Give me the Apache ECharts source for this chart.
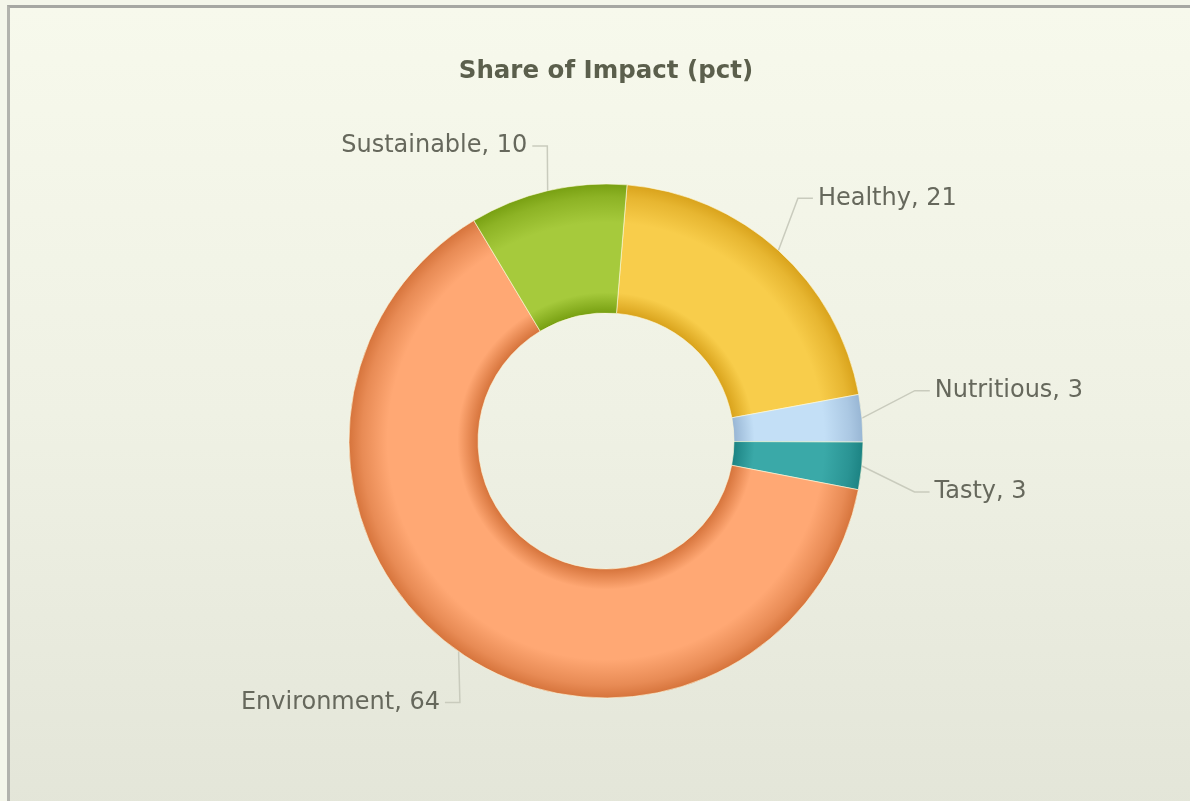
<!DOCTYPE html>
<html>
<head>
<meta charset="utf-8">
<script src="https://cdn.jsdelivr.net/npm/echarts@6/dist/echarts.min.js"></script>
<style>
  html, body { margin: 0; padding: 0; width: 1190px; height: 801px; overflow: hidden; background: #f4f6ea; }
  #frame {
    position: absolute; left: 7px; top: 5px; width: 1200px; height: 810px;
    border-top: 3px solid #a6a7a2; border-left: 3px solid #b2b3ad;
    background: linear-gradient(to bottom, #f7f9ec 0%, #eff1e4 50%, #e3e5d8 100%);
  }
  #chart { position: absolute; left: 0; top: 0; width: 1190px; height: 801px; }
</style>
</head>
<body>
<div id="frame"></div>
<div id="chart"></div>
<script>
// ---- data ----
const titleText = 'Share of Impact (pct)';
const categories = ['Healthy', 'Nutritious', 'Tasty', 'Environment', 'Sustainable'];
const values = [21, 3, 3, 64, 10];

// ---- style ----
const lightColors = ['#f8cd4b', '#c3dff6', '#3aa9a8', '#ffa874', '#a6ca3c'];
const darkColors  = ['#d9a31c', '#98b6d4', '#1c8383', '#d6743c', '#78a012'];
// label offsets (label + elbow shifted together), per slice
const labelDx = [-14, 3, 3, 30, 11];
const labelDy = [-15, -23, 21, 10, 4];

const CX = 606, CY = 441, R0 = 128, R1 = 257;

function ringGradient(light, dark) {
  const f = R0 / R1;
  return {
    type: 'radial', x: CX, y: CY, r: R1, global: true,
    colorStops: [
      { offset: 0, color: dark },
      { offset: f, color: dark },
      { offset: f + 0.08, color: light },
      { offset: 0.85, color: light },
      { offset: 0.95, color: echarts.color.lerp(0.55, [light, dark]) },
      { offset: 1, color: dark }
    ]
  };
}

const chart = echarts.init(document.getElementById('chart'), null, { renderer: 'canvas' });
chart.setOption({
  animation: false,
  backgroundColor: 'transparent',
  title: {
    text: titleText,
    left: CX - 5,
    textAlign: 'center',
    top: 54,
    textStyle: { fontFamily: 'DejaVu Sans', fontWeight: 'bold', fontSize: 24.5, color: '#5b5f4c' }
  },
  series: [{
    type: 'pie',
    center: [CX, CY],
    radius: [R0, R1],
    startAngle: 85.3,
    clockwise: true,
    avoidLabelOverlap: false,
    emphasis: { disabled: true },
    itemStyle: { borderColor: 'rgba(255,250,220,0.6)', borderWidth: 1 },
    label: {
      show: true,
      formatter: '{b}, {c}',
      fontFamily: 'DejaVu Sans',
      fontSize: 24,
      color: '#66685c'
    },
    labelLine: {
      show: true,
      length: 50,
      length2: 15,
      lineStyle: { color: '#c9cbbd', width: 1.5 }
    },
    labelLayout: function (params) {
      const i = params.dataIndex;
      const dx = labelDx[i], dy = labelDy[i];
      const pts = params.labelLinePoints;
      const res = { dx: dx, dy: dy };
      if (pts && pts.length === 3) {
        res.labelLinePoints = [
          [pts[0][0], pts[0][1]],
          [pts[1][0] + dx, pts[1][1] + dy],
          [pts[2][0] + dx, pts[2][1] + dy]
        ];
      }
      return res;
    },
    data: categories.map((name, i) => ({
      name: name,
      value: values[i],
      itemStyle: { color: ringGradient(lightColors[i], darkColors[i]) }
    }))
  }]
});
</script>
</body>
</html>
